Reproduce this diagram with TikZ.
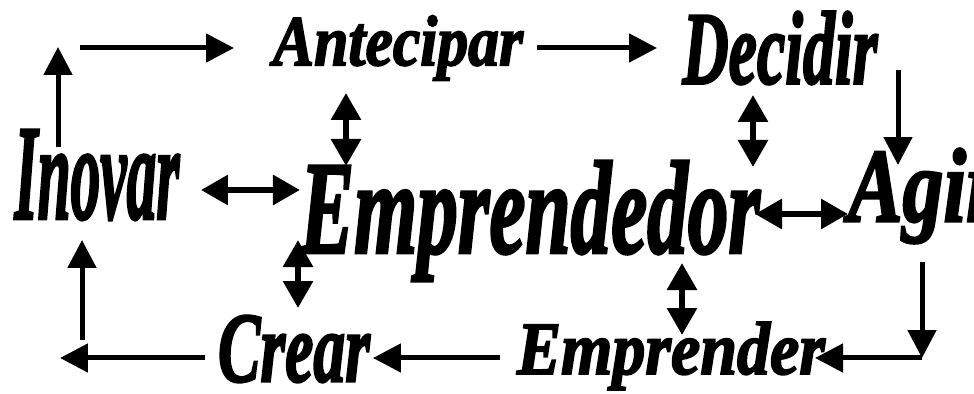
\documentclass[tikz,border=0pt]{standalone}
\usepackage{fontspec}
\setmainfont{Liberation Serif}
\newfontfamily\grossa{Liberation Serif}[FakeBold=2.5]
\usetikzlibrary{arrows.meta,positioning,calc}
\newcommand{\pal}[3]{\resizebox*{#1}{#2}{\grossa\bfseries\itshape #3}}
\tikzset{
  palavra/.style={inner sep=0pt,outer sep=0pt},
  seta/.style={line width=0.1cm,-{Triangle[length=0.56cm,width=0.56cm]}},
  seta2/.style={line width=0.12cm,
    {Triangle[length=0.54cm,width=0.58cm]}-{Triangle[length=0.54cm,width=0.58cm]}},
}

\begin{document}
\begin{tikzpicture}[x=0.02cm,y=-0.02cm]
  \useasboundingbox (0,0) rectangle (974,394);
  % palavras
  \node[palavra] (ant) at (398,48) {\pal{5cm}{1.3cm}{Antecipar}};
  \node[palavra] (dec) at (780,48) {\pal{3.9cm}{1.46cm}{Decidir}};
  \node[palavra] (ino) at (97,175) {\pal{3.3cm}{1.8cm}{Inovar}};
  \node[palavra] (emp) at (530,221) {\pal{9.2cm}{2.4cm}{Emprendedor}};
  \node[palavra] (agi) at (923,196) {\pal{3cm}{1.9cm}{Agir}};
  \node[palavra] (cre) at (294,349) {\pal{3.04cm}{1.34cm}{Crear}};
  \node[palavra] (emr) at (671,356) {\pal{6.16cm}{1.36cm}{Emprender}};
  % cantos
  \coordinate (k1) at (58,47);
  \coordinate (k2) at (80,48);
  \coordinate (k3) at (898,70);
  \coordinate (k4) at (922,358);
  \coordinate (k5) at (60,358);
  \coordinate (k6) at (82,340);
  % ciclo
  \draw[seta,shorten <=-0.34cm] (ino.north -| k1) -- (k1);
  \draw[seta,shorten >=0.78cm] (k2) -- (k2 -| ant.west);
  \draw[seta,shorten <=0.28cm,shorten >=0.51cm] (ant.east) -- (dec.west);
  \draw[seta,shorten >=-0.33cm] (k3) -- (k3 |- agi.north);
  \draw[seta,shorten <=0.37cm] (agi.south -| k4) -- (k4);
  \draw[seta,shorten >=-0.2cm] (k4) -- (k4 -| emr.east);
  \draw[seta,shorten <=0.34cm,shorten >=0.06cm] (emr.west |- k4) -- (cre.east |- k4);
  \draw[seta,shorten <=0.26cm] (cre.west |- k5) -- (k5);
  \draw[seta,shorten >=0.4cm] (k6) -- (k6 |- ino.south);
  % setas duplas
  \coordinate (d1) at (346,0);
  \coordinate (d2) at (753,0);
  \coordinate (d3) at (0,190);
  \coordinate (d4) at (0,214);
  \coordinate (d5) at (298,0);
  \coordinate (d6) at (682,0);
  \draw[seta2,shorten <=0.25cm,shorten >=-0.1cm] (d1 |- ant.south) -- (d1 |- emp.north);
  \draw[seta2,shorten <=0.21cm,shorten >=-0.12cm] (d2 |- dec.south) -- (d2 |- emp.north);
  \draw[seta2,shorten <=0.43cm] (ino.east |- d3) -- (emp.west |- d3);
  \draw[seta2,shorten <=-0.1cm] (emp.east |- d4) -- (agi.west |- d4);
  \draw[seta2,shorten <=-0.82cm,shorten >=0.15cm] (d5 |- emp.south) -- (d5 |- cre.north);
  \draw[seta2,shorten <=-0.36cm,shorten >=-0.26cm] (d6 |- emp.south) -- (d6 |- emr.north);
\end{tikzpicture}
\end{document}
